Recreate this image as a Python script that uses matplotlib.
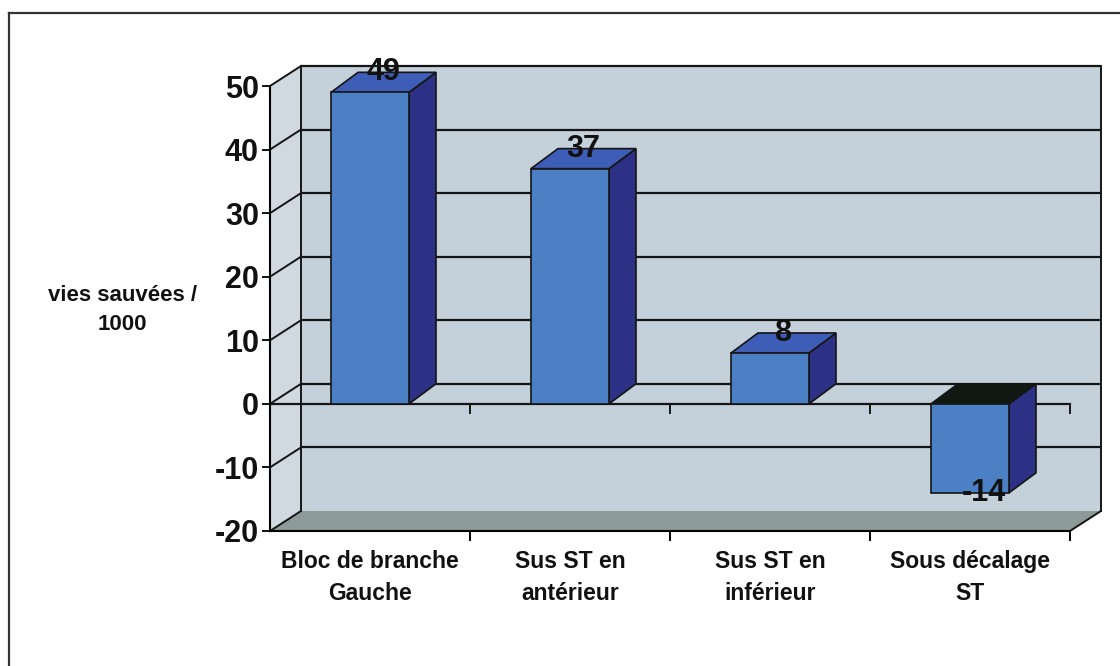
import matplotlib
matplotlib.use("Agg")
import matplotlib.pyplot as plt
from matplotlib.patches import Polygon
from matplotlib.lines import Line2D
import numpy as np

# Donnees du graphique
categories = ["Bloc de branche\nGauche", "Sus ST en\nantérieur",
              "Sus ST en\ninférieur", "Sous décalage\nST"]
values = [49, 37, 8, -14]
y_ticks = [-20, -10, 0, 10, 20, 30, 40, 50]
y_label = "vies sauvées /\n1000"

# Style
plt.rcParams['font.family'] = ['Liberation Sans', 'DejaVu Sans']
plt.rcParams['font.weight'] = 'bold'

col_wall = "#c4d0da"
col_side_wall = "#cfd9df"
col_floor = "#8c9b98"
col_front = "#4b80c5"
col_side = "#2c3185"
col_top = "#3e5db6"
col_top_neg = "#0f1912"
col_line = "#151515"

W, H = 1120, 666
fig = plt.figure(figsize=(W / 100, H / 100), dpi=100)
fig.patch.set_facecolor("white")

# axes placee pour que -0.5..3.5 et -20..50 tombent sur la face avant
ax = fig.add_axes([270 / W, 1 - 531 / H, 800 / W, 445 / H])
ax.set_xlim(-0.5, len(categories) - 0.5)
ax.set_ylim(min(y_ticks), max(y_ticks))
ax.patch.set_visible(False)

# decalage de profondeur (unites de donnees)
DX, DY = 0.155, 3.15      # murs
BDX, BDY = 0.135, 3.15    # barres
bar_w = 0.39

x0, x1 = ax.get_xlim()
y0, y1 = ax.get_ylim()

def poly(pts, fc, z, ec="none", lw=0):
    p = Polygon(pts, closed=True, facecolor=fc, edgecolor=ec, linewidth=lw,
                zorder=z, clip_on=False)
    ax.add_patch(p)

# mur du fond, mur de gauche, sol
poly([(x0 + DX, y0 + DY), (x1 + DX, y0 + DY), (x1 + DX, y1 + DY), (x0 + DX, y1 + DY)], col_wall, 1)
poly([(x0, y0), (x0 + DX, y0 + DY), (x0 + DX, y1 + DY), (x0, y1)], col_side_wall, 1)
poly([(x0, y0), (x1, y0), (x1 + DX, y0 + DY), (x0 + DX, y0 + DY)], col_floor, 2)

# quadrillage du fond + diagonales du mur gauche
for v in y_ticks:
    if v > y0:
        ax.plot([x0 + DX, x1 + DX], [v + DY, v + DY], color=col_line, lw=1.6,
                zorder=3, clip_on=False, solid_capstyle="butt")
    ax.plot([x0, x0 + DX], [v, v + DY], color=col_line, lw=1.4, zorder=3, clip_on=False)

# bords du mur du fond
ax.plot([x0 + DX, x0 + DX], [y0 + DY, y1 + DY], color=col_line, lw=1.4, zorder=3, clip_on=False)
ax.plot([x1 + DX, x1 + DX], [y0 + DY, y1 + DY], color=col_line, lw=1.4, zorder=3, clip_on=False)
ax.plot([x1, x1 + DX], [y0, y0 + DY], color=col_line, lw=1.4, zorder=3, clip_on=False)

# axe des categories a zero (face avant) avec graduations
bounds = np.arange(len(categories)) + 0.5
ax.plot([x0, x1], [0, 0], color=col_line, lw=1.6, zorder=4, clip_on=False)
ax.vlines(bounds, -1.6, 0, color=col_line, lw=1.4, zorder=4, clip_on=False)

# barres en pseudo 3D
for i, v in enumerate(values):
    l, r = i - bar_w / 2, i + bar_w / 2
    lo, hi = min(0, v), max(0, v)
    poly([(l, lo), (r, lo), (r, hi), (l, hi)], col_front, 6, col_line, 1.2)
    poly([(r, lo), (r + BDX, lo + BDY), (r + BDX, hi + BDY), (r, hi)], col_side, 5, col_line, 1.2)
    top_col = col_top if v >= 0 else col_top_neg
    poly([(l, hi), (r, hi), (r + BDX, hi + BDY), (l + BDX, hi + BDY)], top_col, 5, col_line, 1.2)
    ty = v + BDY if v >= 0 else v
    ax.text(i + BDX / 2, ty, str(v), ha="center", va="center", fontsize=22,
            fontweight="bold", color="#111111", zorder=8)

# axe vertical
for s in ["top", "right"]:
    ax.spines[s].set_visible(False)
ax.spines["left"].set_linewidth(1.5)
ax.spines["bottom"].set_linewidth(1.5)
ax.spines["left"].set_zorder(7)
ax.spines["bottom"].set_zorder(7)
ax.set_yticks(y_ticks)
ax.set_yticklabels([str(t) for t in y_ticks], fontsize=22, fontweight="bold")
ax.tick_params(axis="y", length=6, width=1.4, pad=2, colors="#111111")

ax.set_xticks(bounds)
ax.set_xticklabels([])
ax.tick_params(axis="x", which="major", length=7, width=1.4, direction="out")
ax.set_xticks(np.arange(len(categories)), minor=True)
ax.set_xticklabels(categories, minor=True, fontsize=16.5, fontweight="bold",
                   linespacing=1.5)
ax.tick_params(axis="x", which="minor", length=0, pad=14, colors="#111111")

fig.text(122 / W, 1 - 310 / H, y_label, ha="center", va="center", fontsize=16,
         fontweight="bold", color="#111111", linespacing=1.55)

# cadre exterieur
fig.add_artist(Line2D([9 / W, 9 / W], [0, 1 - 13 / H], transform=fig.transFigure,
                      color="#333333", lw=1.6))
fig.add_artist(Line2D([9 / W, 1], [1 - 13 / H, 1 - 13 / H], transform=fig.transFigure,
                      color="#333333", lw=1.6))

fig.savefig("out.png", dpi=100, facecolor="white")
